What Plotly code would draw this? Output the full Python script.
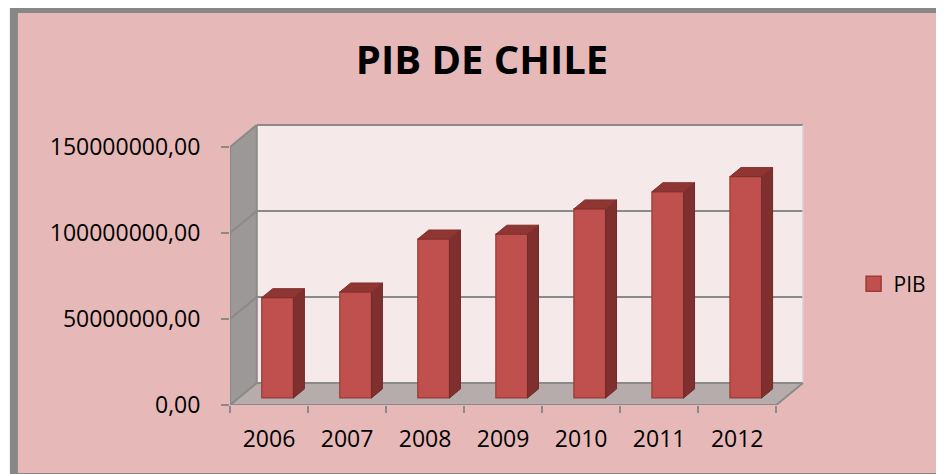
import plotly.graph_objects as go

years = ["2006", "2007", "2008", "2009", "2010", "2011", "2012"]
pib = [58.3e6, 61.6e6, 92.4e6, 95.2e6, 109.9e6, 119.9e6, 128.7e6]
y_ticks = [0, 50e6, 100e6, 150e6]
y_ticktext = ["0,00", "50000000,00", "100000000,00", "150000000,00"]

# page has an 8px body margin, so the figure is 8px smaller and shifted
OFF = 8
W, H = 944 - OFF, 474 - OFF
L, R, T, B = 230 - OFF, 810 - OFF, 120 - OFF, 405 - OFF
PX_PER_CAT = 78.71
PX_PER_VAL = 1.72e-6
xmax = (R - L) / PX_PER_CAT
ymax = (B - T) / PX_PER_VAL
n = len(years)
vmax = y_ticks[-1]
dx = 27 / PX_PER_CAT          # depth offset in x units
dy = 22 / PX_PER_VAL          # depth offset in value units
f0, f1 = 0.32, 0.73           # bar depth (front / back fraction)
hw = 0.203                    # half bar width

GRID = "#8a8a8a"
BAR = "#c0504d"
BAR_EDGE = "#9b3a37"
fig = go.Figure()

def px_x(p):
    return (p - L) / (R - L)

def px_y(p):
    return (B - p) / (B - T)

shapes = [dict(type="rect", xref="paper", yref="paper",
               x0=px_x(4), x1=px_x(W + 20), y0=px_y(H + 3), y1=px_y(1),
               fillcolor="#e6b9b8", line=dict(color="#878787", width=8),
               layer="below")]

def path_shape(xs, ys, fill):
    d = "M " + " L ".join(f"{x},{y}" for x, y in zip(xs, ys)) + " Z"
    shapes.append(dict(type="path", xref="x", yref="y", path=d,
                       fillcolor=fill, line=dict(width=0), layer="below"))

def line_shape(xs, ys, color=GRID, w=2):
    for i in range(len(xs) - 1):
        shapes.append(dict(type="line", xref="x", yref="y",
                           x0=xs[i], y0=ys[i], x1=xs[i + 1], y1=ys[i + 1],
                           line=dict(color=color, width=w), layer="below"))

# walls and floor
path_shape([dx, n + dx, n + dx, dx], [dy, dy, vmax + dy, vmax + dy], "#f5e9ea")
path_shape([0, dx, dx, 0], [0, dy, vmax + dy, vmax], "#9d9898")
path_shape([0, n, n + dx, dx], [0, 0, dy, dy], "#b6acac")

# gridlines and edges
for v in y_ticks:
    line_shape([0, dx, n + dx], [v, v + dy, v + dy])
line_shape([0, 0], [0, vmax])
line_shape([dx, dx], [dy, vmax + dy])
line_shape([n + dx, n + dx], [dy, vmax + dy], "#d9cfd0", 1.5)
line_shape([0, n, n + dx], [0, 0, dy])

# bars: front faces
b0 = f0 * dy
fig.add_trace(go.Bar(
    x=[i + 0.5 + f0 * dx for i in range(n)], y=pib, base=[b0] * n,
    width=2 * hw, name="PIB", showlegend=False,
    marker=dict(color=BAR, line=dict(color=BAR_EDGE, width=1.2)),
    hoverinfo="skip"))

# bars: sides and tops
ddx = (f1 - f0) * dx
ddy = (f1 - f0) * dy
sx, sy, tx, ty = [], [], [], []
for i, v in enumerate(pib):
    xc = i + 0.5 + f0 * dx
    top = v + b0
    sx += [xc + hw, xc + hw + ddx, xc + hw + ddx, xc + hw, xc + hw, None]
    sy += [b0, b0 + ddy, top + ddy, top, b0, None]
    tx += [xc - hw, xc + hw, xc + hw + ddx, xc - hw + ddx, xc - hw, None]
    ty += [top, top, top + ddy, top + ddy, top, None]
for xs, ys, fc, lc in [(sx, sy, "#7f302e", "#732b29"), (tx, ty, "#903632", "#7f302e")]:
    fig.add_trace(go.Scatter(x=xs, y=ys, mode="lines", fill="toself",
                             fillcolor=fc, line=dict(color=lc, width=1),
                             hoverinfo="skip", showlegend=False))

# legend entry (square swatch)
fig.add_trace(go.Scatter(x=[None], y=[None], mode="markers", name="PIB",
                         marker=dict(symbol="square", size=15, color=BAR,
                                     line=dict(color=BAR_EDGE, width=1.5))))

fig.update_layout(
    width=W, height=H,
    margin=dict(l=L, r=W - R, t=T, b=H - B, pad=0),
    paper_bgcolor="white", plot_bgcolor="rgba(0,0,0,0)",
    font=dict(family="Open Sans", color="black"),
    separators=",.",
    title=dict(text="<b>PIB DE CHILE</b>", x=(482 - OFF) / W, xref="container",
               xanchor="center", y=1 - (60 - OFF) / H, yref="container",
               yanchor="middle", font=dict(size=40, family="Open Sans")),
    showlegend=True,
    legend=dict(x=px_x(859 - OFF), xanchor="left",
                y=px_y(284 - OFF), yanchor="middle",
                bgcolor="rgba(0,0,0,0)", font=dict(size=21)),
    shapes=shapes,
)
fig.update_xaxes(range=[0, xmax], showgrid=False, zeroline=False, showline=False,
                 tickmode="array", tickvals=[i + 0.5 for i in range(n)],
                 ticktext=years, ticks="outside", ticklen=0,
                 tickfont=dict(size=23), ticklabelstandoff=13,
                 minor=dict(tickmode="array", tickvals=list(range(n + 1)),
                            ticks="outside", ticklen=7, tickcolor=GRID,
                            tickwidth=2, showgrid=False))
fig.update_yaxes(range=[0, ymax], showgrid=False, zeroline=False, showline=False,
                 tickmode="array", tickvals=y_ticks, ticktext=y_ticktext,
                 ticks="outside", ticklen=8, tickcolor=GRID, tickwidth=2,
                 tickfont=dict(size=23), ticklabelstandoff=16)

fig.write_html("out.html")
